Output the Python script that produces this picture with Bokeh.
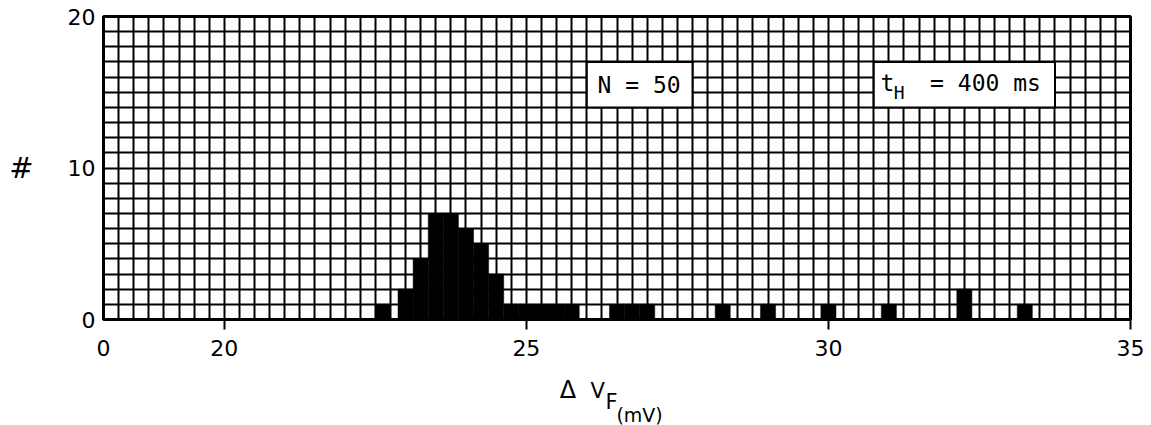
import numpy as np
from bokeh.plotting import figure
from bokeh.layouts import column
from bokeh.models import FixedTicker, Range1d
from bokeh.core.properties import value
from bokeh.embed import file_html
from bokeh.resources import INLINE

# Histogram of forward-voltage shift, bins of 0.25 mV (bar centres, counts)
bin_centers = [22.625, 23.0, 23.25, 23.5, 23.75, 24.0, 24.25, 24.5,
               24.75, 25.0, 25.25, 25.5, 25.75,
               26.5, 26.75, 27.0,
               28.25, 29.0, 30.0, 31.0, 32.25, 33.25]
counts = [1, 2, 4, 7, 7, 6, 5, 3,
          1, 1, 1, 1, 1,
          1, 1, 1,
          1, 1, 1, 1, 2, 1]
bin_width = 0.25

# Axis is broken at the left: the start of the frame carries the label "0"
x_start, x_end = 18.0, 35.0
x_ticks = [20, 25, 30, 35]
x_break_label = "0"
y_ticks = [0, 10, 20]
y_max = 20

TICK_FONT = "DejaVu Sans"
BOX_FONT = "DejaVu Sans Mono"

LEFT, RIGHT, FRAME_W = 103, 21, 1027
TOP, FRAME_H, BOTTOM = 16, 303, 50

p = figure(frame_width=FRAME_W, frame_height=FRAME_H, title=None,
           x_range=(x_start, x_end), y_range=(0, y_max),
           output_backend="svg", toolbar_location=None,
           min_border_left=LEFT, min_border_right=RIGHT,
           min_border_top=TOP, min_border_bottom=BOTTOM,
           background_fill_color="white", border_fill_color="white")

p.outline_line_color = "black"
p.outline_line_width = 3

# Fine graph-paper grid: 0.25 mV by 1 count
p.xgrid.ticker = FixedTicker(ticks=list(np.arange(x_start, x_end + 0.001, bin_width)))
p.ygrid.ticker = FixedTicker(ticks=list(range(0, y_max + 1)))
for g in (p.xgrid[0], p.ygrid[0]):
    g.grid_line_color = "black"
    g.grid_line_width = 2
    g.grid_line_alpha = 1.0

# x axis: labelled at the break and at 20..35, tick marks only at 20..35
p.xaxis.axis_label = None
p.xaxis.ticker = FixedTicker(ticks=[x_start] + x_ticks, minor_ticks=x_ticks)
p.xaxis.major_label_overrides = {x_start: x_break_label}
p.xaxis.axis_line_color = None
p.xaxis.major_tick_out = 0
p.xaxis.major_tick_in = 0
p.xaxis.minor_tick_out = 10
p.xaxis.minor_tick_in = 0
p.xaxis.minor_tick_line_width = 2
p.xaxis.minor_tick_line_color = "black"
p.xaxis.major_label_standoff = 10
p.xaxis.major_label_text_font = TICK_FONT
p.xaxis.major_label_text_font_size = "22px"
p.xaxis.major_label_text_color = "black"

p.yaxis.ticker = FixedTicker(ticks=y_ticks)
p.yaxis.axis_line_color = None
p.yaxis.major_tick_out = 0
p.yaxis.major_tick_in = 0
p.yaxis.minor_tick_line_color = None
p.yaxis.major_label_standoff = 8
p.yaxis.major_label_text_font = TICK_FONT
p.yaxis.major_label_text_font_size = "22px"
p.yaxis.major_label_text_color = "black"
p.yaxis.axis_label = "#"
p.yaxis.axis_label_orientation = "horizontal"
p.yaxis.axis_label_standoff = 31
p.yaxis.axis_label_text_font = TICK_FONT
p.yaxis.axis_label_text_font_size = "29px"
p.yaxis.axis_label_text_font_style = "normal"
p.yaxis.axis_label_text_color = "black"

# Bars
p.vbar(x=bin_centers, top=counts, width=bin_width, bottom=0,
       fill_color="black", line_color="black", line_width=0.5)

# Annotation boxes
p.quad(left=[26.0, 30.75], right=[27.75, 33.75], bottom=[14, 14], top=[17, 17],
       fill_color="white", line_color="black", line_width=2)

p.text(x=[26.865], y=[15.45], text=["N = 50"], text_font=value(BOX_FONT),
       text_font_size="23px", text_align="center", text_baseline="middle",
       text_color="black")
p.text(x=[30.86], y=[15.62], text=["t"], text_font=value(BOX_FONT),
       text_font_size="23px", text_align="left", text_baseline="middle",
       text_color="black")
p.text(x=[31.08], y=[14.96], text=["H"], text_font=value(BOX_FONT),
       text_font_size="18px", text_align="left", text_baseline="middle",
       text_color="black")
p.text(x=[32.6], y=[15.62], text=["= 400 ms"], text_font=value(BOX_FONT),
       text_font_size="23px", text_align="center", text_baseline="middle",
       text_color="black")

# Strip beneath the plot for the x title ΔV_F(mV), sharing the x scale;
# its y runs downward in pixels from the top of the strip
TITLE_H = 425 - (TOP + FRAME_H + BOTTOM)
t = figure(frame_width=FRAME_W, frame_height=TITLE_H, title=None,
           x_range=p.x_range, y_range=Range1d(TITLE_H, 0),
           output_backend="svg", toolbar_location=None,
           x_axis_location=None, y_axis_location=None,
           min_border_left=LEFT, min_border_right=RIGHT,
           min_border_top=0, min_border_bottom=0,
           background_fill_color="white", border_fill_color="white")
t.outline_line_color = None
t.xgrid.visible = False
t.ygrid.visible = False

title_parts = ["Δ", "V", "F", "(mV)"]
title_x = [25.69, 26.06, 26.31, 26.49]
title_y = [20.5, 21, 32.5, 45]
title_size = ["24px", "21px", "21px", "19px"]
title_align = ["center", "left", "left", "left"]
for txt, xx, yy, sz, al in zip(title_parts, title_x, title_y, title_size, title_align):
    t.text(x=[xx], y=[yy], text=[txt], text_font=value(TICK_FONT),
           text_font_size=sz, text_align=al, text_baseline="middle",
           text_color="black")

layout = column(p, t, spacing=0)
open("out.html", "w").write(file_html(layout, INLINE))
